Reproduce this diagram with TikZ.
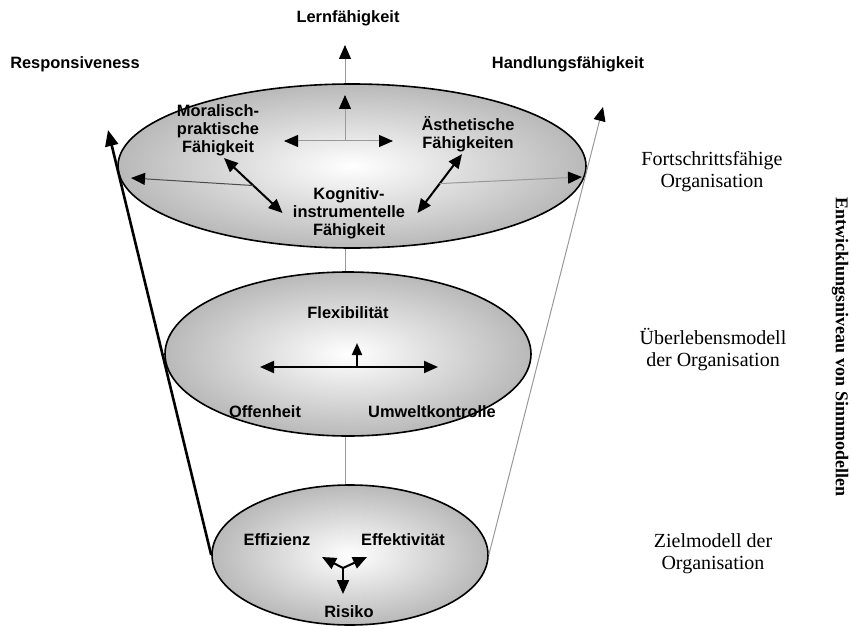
\documentclass[tikz,border=0pt]{standalone}
\usepackage{fontspec}
\setmainfont{Liberation Serif}
\setsansfont{Liberation Sans}
\usetikzlibrary{arrows.meta,shapes.geometric}

\begin{document}
\begin{tikzpicture}[x=0.5pt,y=-0.5pt,>={Triangle[length=7pt,width=6pt,color=black]},
  lvl/.style={ellipse,draw=black,line width=0.8pt,inner sep=0pt,inner color=white,outer color=gray!55},
  lbl/.style={font=\sffamily\bfseries\fontsize{8.2}{9}\selectfont,align=center,inner sep=1pt},
  lvlname/.style={font=\fontsize{10}{11}\selectfont,align=center},
  grayline/.style={draw=gray!80,line width=0.5pt},
  blackline/.style={draw=black,line width=1pt}]
  \useasboundingbox (0,0) rectangle (851,626);

  % the three levels
  \node[lvl,minimum width=234pt,minimum height=82pt] (top) at (352,166) {};
  \node[lvl,minimum width=183pt,minimum height=82pt] (mid) at (348,354) {};
  \node[lvl,minimum width=138pt,minimum height=70pt] (bot) at (350,555) {};

  % axis through the levels
  \coordinate (lt) at (345,45);
  \draw[grayline] (bot.north -| lt) -- (mid.south -| lt);
  \draw[grayline] (mid.north -| lt) -- (top.south -| lt);
  \draw[grayline,->] (top.north -| lt) -- (lt);

  \node[lbl] (lern) at (348,18) {Lernfähigkeit};
  \node[lbl] (resp) at (75,64) {Responsiveness};
  \node[lbl] (hand) at (568,64) {Handlungsfähigkeit};

  % funnel sides
  \coordinate (rt) at (108,130);
  \coordinate (ht) at (603,107);
  \draw[line width=1.3pt,-{Triangle[length=8pt,width=6.5pt]}] (bot.west) -- (rt);
  \draw[grayline,->] (bot.east) -- (ht);

  % top level
  \node[lbl] (mor) at (218,130) {Moralisch-\\praktische\\Fähigkeit};
  \node[lbl] (aes) at (468,134) {Ästhetische\\Fähigkeiten};
  \node[lbl] (kog) at (349,213) {Kognitiv-\\instrumentelle\\Fähigkeit};
  \coordinate (tc) at (345,141);
  \coordinate (tu) at (345,95);
  \coordinate (tl) at (284,141);
  \coordinate (tr) at (393,141);
  \draw[grayline,->] (tc) -- (tu);
  \draw[grayline,->] (tc) -- (tl);
  \draw[grayline,->] (tc) -- (tr);
  \draw[blackline,<->] ([xshift=3pt]mor.south) -- coordinate (dl) ([xshift=-4pt]kog.west);
  \draw[blackline,<->] ([xshift=-3pt]aes.south) -- coordinate (dr) ([xshift=5pt]kog.east);
  \coordinate (wl) at (131,178);
  \coordinate (wr) at (582,177);
  \draw[grayline,draw=gray!60!black,->] (dl) -- (wl);
  \draw[grayline,->] (dr) -- (wr);

  % middle level
  \node[lbl] (flex) at (348,313) {Flexibilität};
  \node[lbl] (off) at (265,412) {Offenheit};
  \node[lbl] (umw) at (432,412) {Umweltkontrolle};
  \coordinate (ml) at (260,367);
  \coordinate (mr) at (438,367);
  \coordinate (mc) at (357,367);
  \coordinate (mu) at (357,343);
  \draw[blackline,<->] (ml) -- (mr);
  \draw[blackline,-{Triangle[length=6pt,width=5pt]}] (mc) -- (mu);

  % bottom level
  \node[lbl] (eff) at (277,540) {Effizienz};
  \node[lbl] (efk) at (403,540) {Effektivität};
  \node[lbl] (ris) at (349,612) {Risiko};
  \coordinate (bc) at (343,568);
  \coordinate (bl) at (322,557);
  \coordinate (br) at (367,557);
  \coordinate (bd) at (343,594);
  \draw[blackline,->] (bc) -- (bl);
  \draw[blackline,->] (bc) -- (br);
  \draw[blackline,->] (bc) -- (bd);

  % level names
  \node[lvlname] (fort) at (712,172) {Fortschrittsfähige\\Organisation};
  \node[lvlname] (ueber) at (713,350) {Überlebensmodell\\der Organisation};
  \node[lvlname] (ziel) at (713,554) {Zielmodell der\\Organisation};
  \node[font=\bfseries\fontsize{9}{10}\selectfont,rotate=-90] (niv) at (840,347) {Entwicklungsniveau von Sinnmodellen};
\end{tikzpicture}
\end{document}
